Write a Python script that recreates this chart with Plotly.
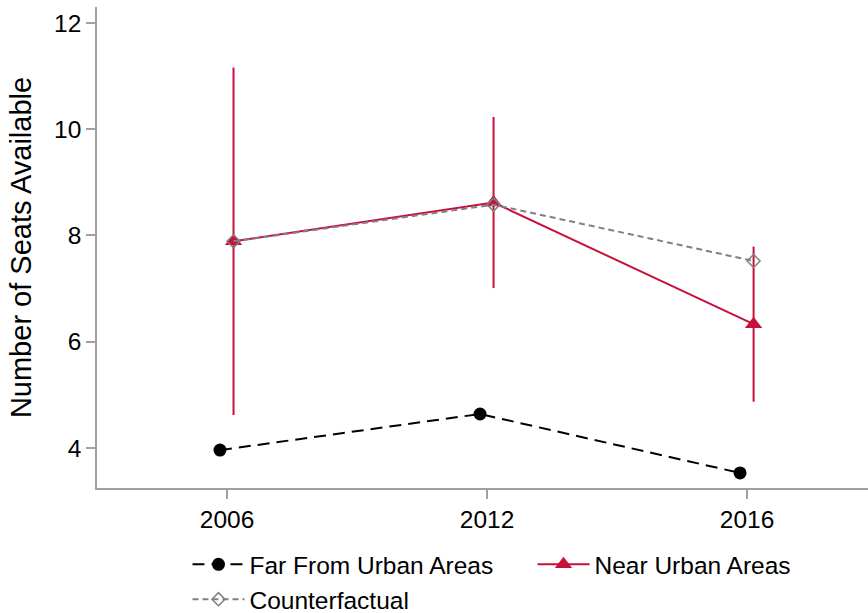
import plotly.graph_objects as go

years = ["2006", "2012", "2016"]
far_vals = [3.96, 4.64, 3.53]
near_vals = [7.89, 8.62, 6.33]
near_err = [3.27, 1.61, 1.46]
cf_vals = [7.89, 8.58, 7.52]

pos = [1, 2, 3]
far_x = [p - 0.027 for p in pos]
near_x = [p + 0.025 for p in pos]

RED = "#C8103C"
FONT = "Liberation Sans, Arial, sans-serif"

fig = go.Figure()
fig.add_trace(go.Scatter(
    x=far_x, y=far_vals, name="Far From Urban Areas", mode="lines+markers",
    line=dict(color="black", width=2, dash="12px,7px"),
    marker=dict(symbol="circle", size=13, color="black"),
))
fig.add_trace(go.Scatter(
    x=near_x, y=near_vals, name="Near Urban Areas", mode="lines+markers",
    line=dict(color=RED, width=2),
    marker=dict(symbol="triangle-up", size=15, color=RED),
    error_y=dict(type="data", array=near_err, color=RED, thickness=2, width=0),
))
fig.add_trace(go.Scatter(
    x=near_x, y=cf_vals, name="Counterfactual", mode="lines+markers",
    line=dict(color="#808080", width=2, dash="6px,4px"),
    marker=dict(symbol="diamond-open", size=10, color="#808080", line=dict(width=1.5)),
))

fig.update_layout(
    width=868, height=613,
    margin=dict(l=97, r=0, t=7, b=125),
    paper_bgcolor="white", plot_bgcolor="white",
    font=dict(family=FONT, size=24.5, color="black"),
    xaxis=dict(
        range=[0.5, 3.465], tickvals=pos, ticktext=years,
        showline=True, linecolor="#A0A0A0", linewidth=1.5,
        ticks="outside", ticklen=9, tickcolor="#A0A0A0", tickwidth=1.5,
        showgrid=False, zeroline=False, automargin=False,
    ),
    yaxis=dict(
        range=[3.247, 12.30], tickvals=[4, 6, 8, 10, 12],
        showline=True, linecolor="#A0A0A0", linewidth=1.5,
        ticks="outside", ticklen=9, tickcolor="#A0A0A0", tickwidth=1.5,
        showgrid=False, zeroline=False, automargin=False,
        title=dict(text="Number of Seats Available", standoff=14),
    ),
    showlegend=True,
    legend=dict(
        orientation="h", xref="container", yref="container",
        x=0.216, y=0.116, xanchor="left", yanchor="top",
        entrywidth=278, itemwidth=52, tracegroupgap=0,
        font=dict(size=24.5),
    ),
)

fig.write_html("out.html", config={"displayModeBar": False},
               post_script="document.body.style.margin='0';")
